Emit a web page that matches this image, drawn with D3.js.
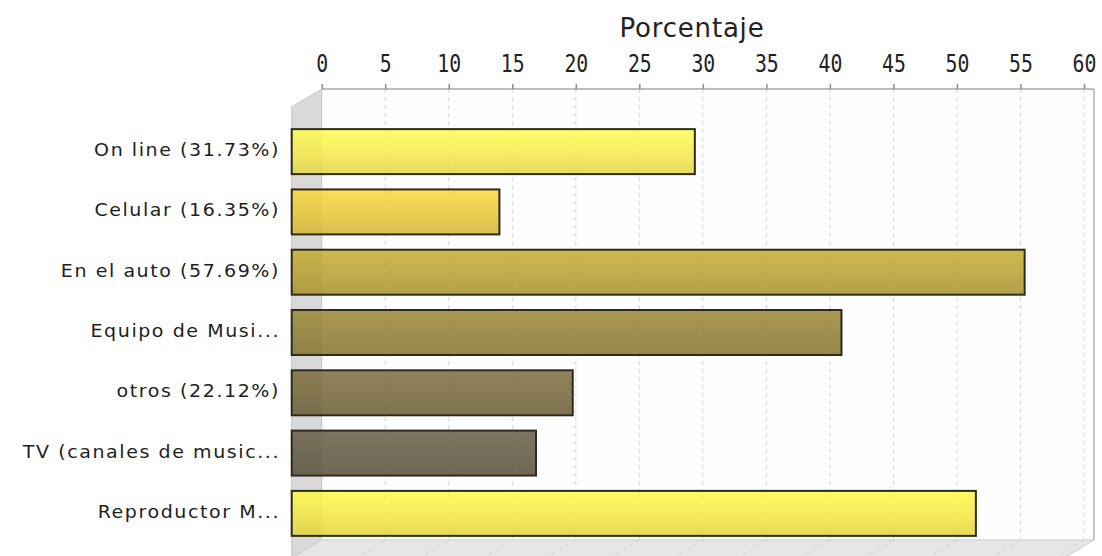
<!DOCTYPE html>
<html>
<head>
<meta charset="utf-8">
<script src="https://cdn.jsdelivr.net/npm/d3@7"></script>
<style>
  html, body { margin: 0; padding: 0; background: #ffffff; }
  svg { display: block; }
</style>
</head>
<body>
<svg id="chart" width="1102" height="556"></svg>
<script>
// Survey: where people listen to music (percent of respondents)
const categories = [
  "On line (31.73%)",
  "Celular (16.35%)",
  "En el auto (57.69%)",
  "Equipo de Musi...",
  "otros (22.12%)",
  "TV (canales de music...",
  "Reproductor M..."
];
const values = [31.73, 16.35, 57.69, 43.27, 22.12, 19.23, 53.85];
const barColors = ["#f5e94a", "#e6c634", "#b59e2e", "#8f7c30", "#726338", "#5f553e", "#f5e640"];
const tickValues = [0, 5, 10, 15, 20, 25, 30, 35, 40, 45, 50, 55, 60];
const axisTitle = "Porcentaje";

const svg = d3.select("#chart");

// back plane and 3D depth offset
const back = { left: 321.7, right: 1094, top: 89, bottom: 540 };
const depthX = 30, depthY = 18;

const x = d3.scaleLinear().domain([0, 60]).range([back.left, 1084]);
const y = d3.scaleBand()
  .domain(categories)
  .range([back.top + depthY, back.bottom + depthY])
  .paddingInner(0.254)
  .paddingOuter(0.367);

// gradients for the bars
const defs = svg.append("defs");
barColors.forEach((c, i) => {
  const g = defs.append("linearGradient")
    .attr("id", "bar" + i).attr("x1", 0).attr("y1", 0).attr("x2", 0).attr("y2", 1);
  g.append("stop").attr("offset", "0%").attr("stop-color", d3.color(c).brighter(0.25));
  g.append("stop").attr("offset", "55%").attr("stop-color", c);
  g.append("stop").attr("offset", "100%").attr("stop-color", d3.color(c).darker(0.25));
});

// back wall
svg.append("rect")
  .attr("x", back.left).attr("y", back.top)
  .attr("width", back.right - back.left).attr("height", back.bottom - back.top)
  .attr("fill", "#fefefe");

// left side wall
svg.append("polygon")
  .attr("points", [
    [back.left - depthX, back.top + depthY],
    [back.left, back.top],
    [back.left, back.bottom],
    [back.left - depthX, back.bottom + depthY]
  ].map(p => p.join(",")).join(" "))
  .attr("fill", "#d9d9d9").attr("stroke", "#c4c4c4").attr("stroke-width", 1);

// floor
svg.append("polygon")
  .attr("points", [
    [back.left, back.bottom],
    [back.right, back.bottom],
    [back.right - depthX, back.bottom + depthY],
    [back.left - depthX, back.bottom + depthY]
  ].map(p => p.join(",")).join(" "))
  .attr("fill", "#e6e6e6").attr("stroke", "#cccccc").attr("stroke-width", 1);

// vertical dashed gridlines on the back wall
svg.append("g").selectAll("line.grid").data(tickValues).join("line")
  .attr("x1", d => x(d)).attr("x2", d => x(d))
  .attr("y1", back.top).attr("y2", back.bottom)
  .attr("stroke", "#d4d4d4").attr("stroke-width", 1).attr("stroke-dasharray", "4,4");

// gridline continuation across the floor
svg.append("g").selectAll("line.floor").data(tickValues).join("line")
  .attr("x1", d => x(d)).attr("x2", d => x(d) - depthX)
  .attr("y1", back.bottom).attr("y2", back.bottom + depthY)
  .attr("stroke", "#d2d2d2").attr("stroke-width", 1).attr("stroke-dasharray", "4,4");

// frame of the back wall (right edge)
svg.append("line")
  .attr("x1", back.right).attr("x2", back.right)
  .attr("y1", back.top).attr("y2", back.bottom)
  .attr("stroke", "#b5b5b5").attr("stroke-width", 1.5);

// top axis
const axis = d3.axisTop(x).tickValues(tickValues).tickSize(5).tickPadding(10);
const ag = svg.append("g").attr("transform", `translate(0,${back.top})`).call(axis);
ag.select(".domain").attr("stroke", "#a8a8a8").attr("stroke-width", 1.5)
  .attr("d", `M${back.left},0H${back.right}`);
ag.selectAll(".tick line").attr("stroke", "#8a8a8a").attr("stroke-width", 1.5);
ag.selectAll(".tick text")
  .attr("fill", "#222")
  .attr("transform", "scale(0.9,1.12)")
  .style("font-family", "'DejaVu Sans Mono', monospace")
  .style("font-size", "22px");

// axis title
svg.append("text")
  .attr("x", 692).attr("y", 37)
  .attr("text-anchor", "middle")
  .attr("fill", "#222")
  .style("font-family", "'DejaVu Sans', sans-serif")
  .style("font-size", "26px")
  .style("letter-spacing", "0.8px")
  .text(axisTitle);

// bars, drawn on the front plane
svg.append("g").selectAll("rect.bar").data(categories).join("rect")
  .attr("x", x(0) - depthX)
  .attr("y", d => y(d))
  .attr("width", (d, i) => x(values[i]) - x(0))
  .attr("height", y.bandwidth())
  .attr("fill", (d, i) => `url(#bar${i})`)
  .attr("fill-opacity", 0.85)
  .attr("stroke", "#2e2a1c")
  .attr("stroke-width", 2);

// category labels
svg.append("g").selectAll("text.cat").data(categories).join("text")
  .attr("transform", d => `translate(280,${y(d) + y.bandwidth() / 2 + 4.5}) scale(1.12,1)`)
  .attr("text-anchor", "end")
  .attr("fill", "#1e1e1e")
  .style("font-family", "'DejaVu Sans', sans-serif")
  .style("font-size", "17px")
  .style("letter-spacing", "1.4px")
  .text(d => d);
</script>
</body>
</html>
